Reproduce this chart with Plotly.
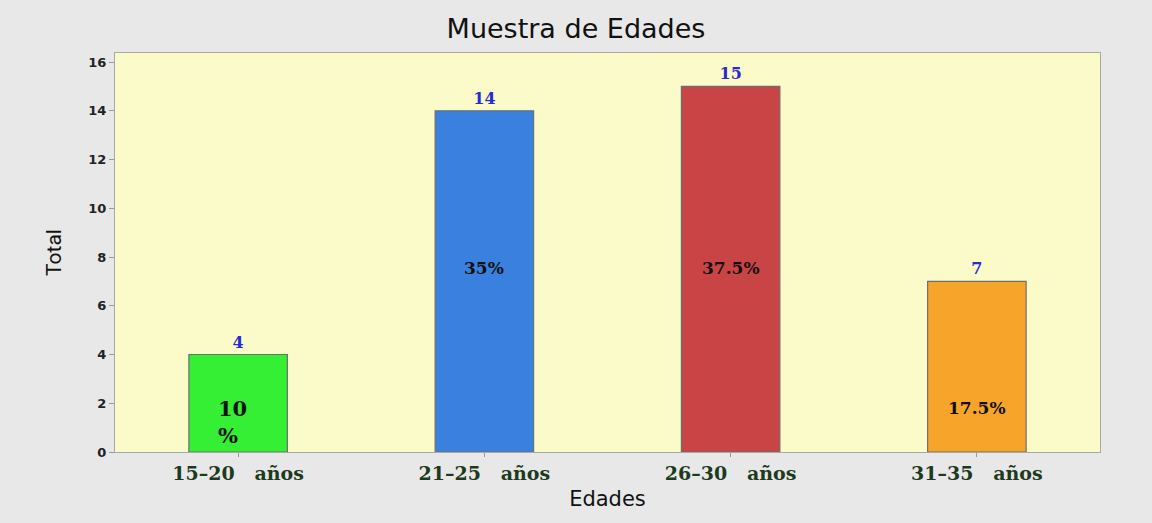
import plotly.graph_objects as go

categories = ["15–20\u00a0\u00a0\u00a0años", "21–25\u00a0\u00a0\u00a0años", "26–30\u00a0\u00a0\u00a0años", "31–35\u00a0\u00a0\u00a0años"]
totals = [4, 14, 15, 7]
percent_labels = ["10<br>%", "35%", "37.5%", "17.5%"]
bar_colors = ["#34ef34", "#3a80de", "#c94545", "#f7a52a"]

# label vertical anchors (data units) for the in-bar percentage text
pct_y = [1.25, 7.55, 7.55, 1.8]
pct_size = [21, 17, 17, 17]
pct_xshift = [-6, 0, 0, 0]

fig = go.Figure()
fig.add_trace(go.Bar(
    x=categories, y=totals,
    marker=dict(color=bar_colors, line=dict(color="#6e6e6e", width=1.2)),
    width=0.4,
    text=["<b>%d</b>" % v for v in totals], textposition="outside",
    textfont=dict(family="DejaVu Serif", size=16, color="#2a2ad0"),
    cliponaxis=False,
))

for c, lab, yy, sz, xs in zip(categories, percent_labels, pct_y, pct_size, pct_xshift):
    parts = lab.split("<br>")
    txt = "<br>".join("<b>%s</b>" % p for p in parts)
    fig.add_annotation(x=c, y=yy, text=txt, showarrow=False, xshift=xs,
                       font=dict(family="DejaVu Serif", size=sz, color="#111111"),
                       xref="x", yref="y", align="left")

fig.update_layout(
    width=1152, height=523,
    paper_bgcolor="#e8e8e8", plot_bgcolor="#fbfbca",
    margin=dict(l=115, r=52, t=53, b=71),
    title=dict(text="Muestra de Edades", x=0.5, xanchor="center", y=0.945, yanchor="middle",
               font=dict(family="DejaVu Sans", size=27, color="#111111")),
    showlegend=False,
    bargap=0.6,
)
fig.update_xaxes(
    range=[-0.5, 3.5], showline=True, linecolor="#a8a8a8", mirror=True, linewidth=1,
    ticks="outside", ticklen=4, tickcolor="#999999",
    tickfont=dict(family="DejaVu Serif", size=19, color="#1d3a1d", weight="bold"),
    title=dict(text="Edades", font=dict(family="DejaVu Sans", size=21, color="#111111"), standoff=8),
    showgrid=False,
)
fig.update_yaxes(
    range=[0, 16.37], tickvals=[0, 2, 4, 6, 8, 10, 12, 14, 16],
    showline=True, linecolor="#a8a8a8", mirror=True, linewidth=1,
    ticks="outside", ticklen=5, tickcolor="#999999",
    tickfont=dict(family="DejaVu Sans", size=13, color="#222222", weight="bold"),
    title=dict(text="Total", font=dict(family="Liberation Sans Narrow, Roboto", size=21, color="#111111"), standoff=20),
    showgrid=False, zeroline=False,
)

fig.write_html("out.html", config={"displayModeBar": False},
               post_script="document.body.style.margin='0px';")
